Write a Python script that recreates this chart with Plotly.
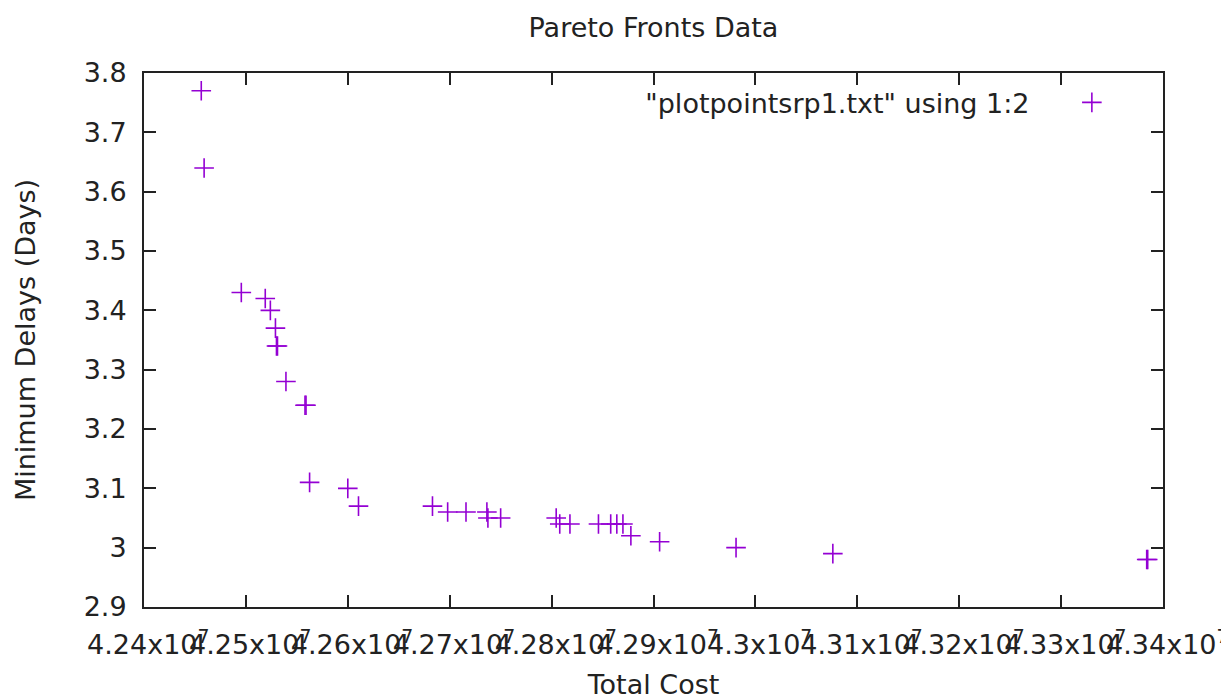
import plotly.graph_objects as go

total_cost = [42456200, 42459000, 42495500, 42519000, 42524000, 42529000, 42530000, 42531000,
              42539300, 42558000, 42559000, 42562500, 42600000, 42610500, 42683100, 42698000,
              42716000, 42736500, 42737500, 42750000, 42804500, 42808000, 42818000,
              42846000, 42858000, 42864000, 42870000, 42877800, 42906000, 42981000, 43076000,
              43384000, 43385000]
min_delays = [3.77, 3.64, 3.43, 3.42, 3.40, 3.37, 3.34, 3.34,
              3.28, 3.24, 3.24, 3.11, 3.10, 3.07, 3.07, 3.06,
              3.06, 3.06, 3.05, 3.05, 3.05, 3.04, 3.04,
              3.04, 3.04, 3.04, 3.04, 3.02, 3.01, 3.00, 2.99,
              2.98, 2.98]

x_tickvals = [4.24e7, 4.25e7, 4.26e7, 4.27e7, 4.28e7, 4.29e7, 4.30e7, 4.31e7, 4.32e7, 4.33e7, 4.34e7]
x_ticktext = ["4.24", "4.25", "4.26", "4.27", "4.28", "4.29", "4.3", "4.31", "4.32", "4.33", "4.34"]
y_tickvals = [2.9, 3.0, 3.1, 3.2, 3.3, 3.4, 3.5, 3.6, 3.7, 3.8]
y_ticktext = ["2.9", "3", "3.1", "3.2", "3.3", "3.4", "3.5", "3.6", "3.7", "3.8"]

FONT = "DejaVu Sans"
FS = 27
COLOR = "#9400D3"
TXT = "#222222"

fig = go.Figure()
fig.add_trace(go.Scatter(
    x=total_cost, y=min_delays, mode="markers", name=" ",
    marker=dict(symbol="cross-thin", size=14, color=COLOR,
                line=dict(color=COLOR, width=1.6)),
))

axis_common = dict(showline=True, linecolor=TXT, linewidth=2, mirror="allticks",
                   ticks="inside", ticklen=12, tickwidth=1.5, tickcolor=TXT,
                   showgrid=False, zeroline=False, automargin=False,
                   tickfont=dict(family=FONT, size=FS, color=TXT))

fig.update_layout(
    width=1221, height=700,
    margin=dict(l=144, r=58, t=73, b=93),
    paper_bgcolor="white", plot_bgcolor="white",
    font=dict(family=FONT, size=FS, color=TXT),
    title=dict(text="Pareto Fronts Data", x=0.5352, xanchor="center",
               y=1 - 28 / 700, yanchor="middle", yref="container",
               font=dict(family=FONT, size=FS, color=TXT)),
    xaxis=dict(range=[4.24e7, 4.34e7], tickmode="array", tickvals=x_tickvals,
               ticktext=["\u00a0" + t + "x10<sup>7</sup>" for t in x_ticktext], tickangle=0,
               ticklabeloverflow="allow", ticklabelstandoff=13,
               title=dict(text="Total Cost", standoff=21,
                          font=dict(family=FONT, size=FS, color=TXT)),
               **axis_common),
    yaxis=dict(range=[2.9, 3.8], tickmode="array", tickvals=y_tickvals, ticktext=y_ticktext,
               ticklabelstandoff=10,
               title=dict(text="Minimum Delays (Days)", standoff=40,
                          font=dict(family=FONT, size=FS, color=TXT)),
               **axis_common),
    showlegend=True,
    legend=dict(orientation="h", x=0.964, xanchor="right", y=0.99, yanchor="top",
                bgcolor="rgba(0,0,0,0)",
                title=dict(text='"plotpointsrp1.txt" using 1:2\u00a0\u00a0\u00a0\u00a0', side="left",
                           font=dict(family=FONT, size=FS, color=TXT)),
                font=dict(family=FONT, size=FS, color=TXT),
                itemwidth=30),
)

fig.write_html("out.html")
